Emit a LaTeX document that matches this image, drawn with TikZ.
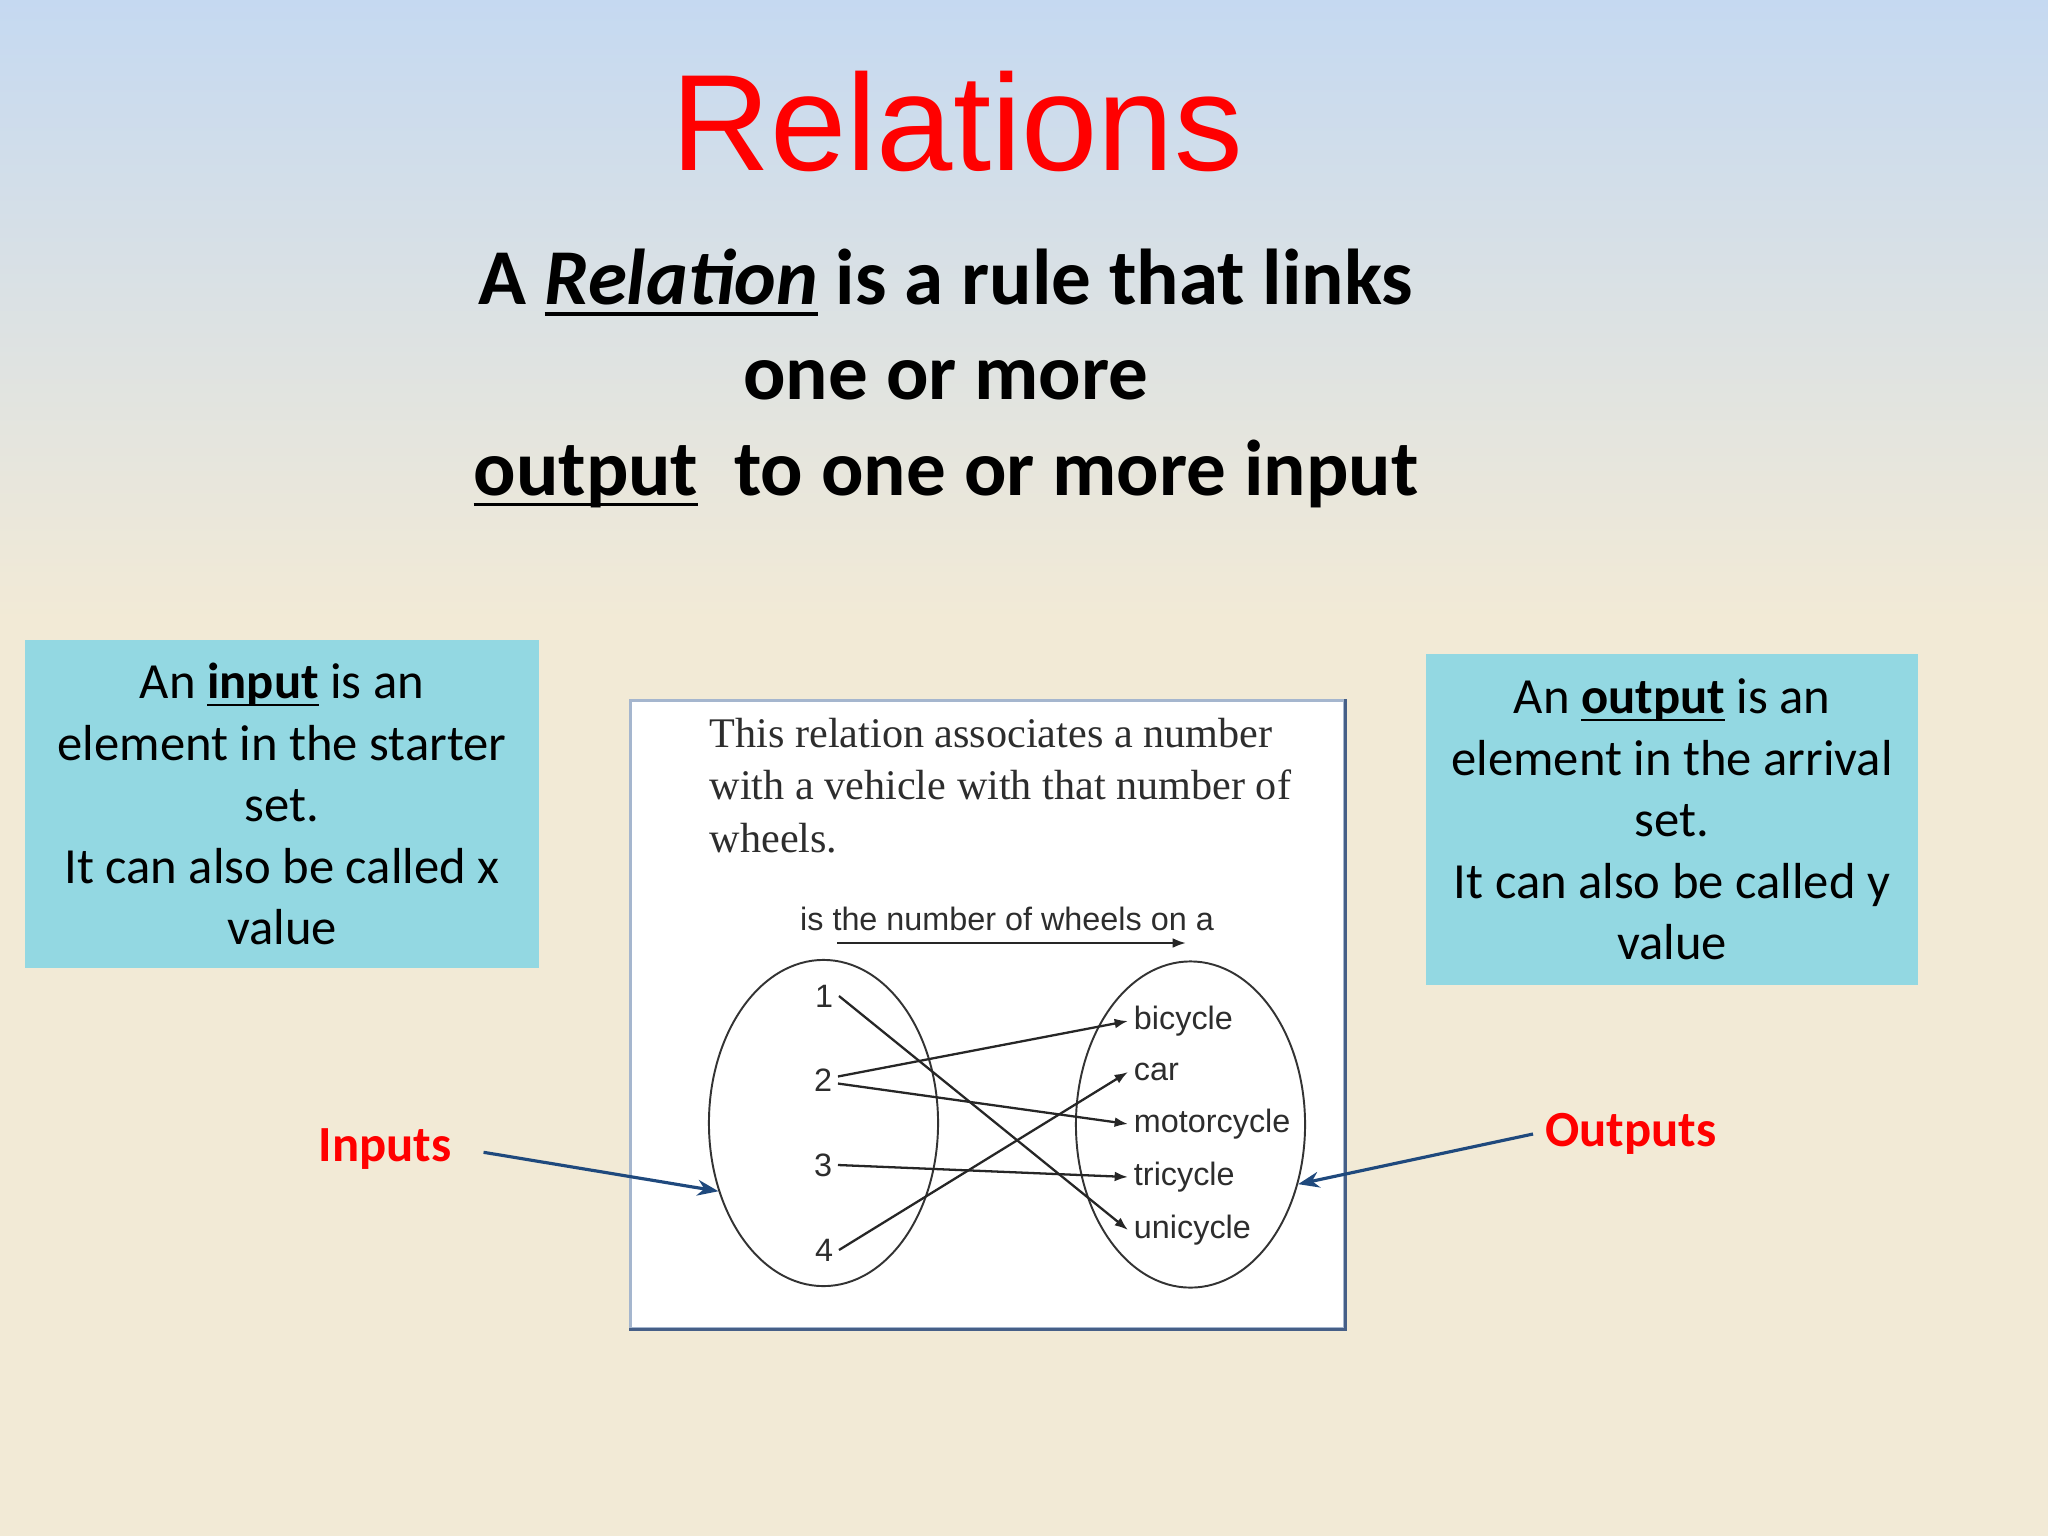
\documentclass[tikz,border=0pt]{standalone}
\usepackage{fontspec}
\setmainfont{Carlito}
\newfontfamily\arialfont{Liberation Sans}
\newfontfamily\timesfont{Liberation Serif}
\usepackage{tikz}
\usetikzlibrary{positioning, calc}
\usetikzlibrary{arrows.meta}
\usetikzlibrary{shapes.geometric}
\definecolor{bgtop}{RGB}{197,217,241}
\definecolor{bgbot}{RGB}{242,234,214}
\definecolor{boxcyan}{RGB}{147,216,226}
\definecolor{arrowblue}{RGB}{31,73,125}
\definecolor{framecol}{RGB}{165,182,206}
\definecolor{frameshade}{RGB}{70,95,135}
\definecolor{pictext}{RGB}{45,45,45}
\tikzstyle{infobox}=[rectangle,fill=boxcyan,inner sep=0pt,align=center,
font=\fontsize{14.4pt}{17.5pt}\selectfont]
\tikzstyle{deftext}=[anchor=base,inner sep=0pt,
font=\bfseries\fontsize{22.5pt}{27.2pt}\selectfont]
\tikzstyle{captext}=[anchor=base west,inner sep=0pt,text=pictext,
font=\timesfont\fontsize{12pt}{14.8pt}\selectfont]
\tikzstyle{elem}=[inner sep=1.5pt,text=pictext,
font=\arialfont\fontsize{9.2pt}{11pt}\selectfont]
\tikzstyle{setlabel}=[elem,anchor=west,text height=4.8pt,text depth=0pt]
\tikzstyle{setoval}=[ellipse,draw=black!80,line width=0.55pt,
minimum width=2.29cm,minimum height=3.26cm,inner sep=0pt]
\tikzstyle{maparrow}=[-{Latex[length=3.8pt,width=2.8pt]},line width=0.65pt,
black!85]
\tikzstyle{pointarrow}=[-{Stealth[length=6pt,width=4.5pt]},line width=0.9pt,
arrowblue]
\tikzstyle{sidelabel}=[text=red,font=\bfseries\fontsize{14.4pt}{17.5pt}\selectfont]
\newcommand\ulword[3]{\setbox0=\hbox{#3}\rlap{\rule[-#1]{\wd0}{#2}}\box0\relax}

\begin{document}
\begin{tikzpicture}[x=0.01cm,y=-0.01cm]
        \useasboundingbox (0,0) rectangle (2048,1536);
        % background
        \fill[bgbot] (0,0) rectangle (2048,1536);
        \shade[top color=bgtop,bottom color=bgbot] (0,0) rectangle (2048,620);

        \node[anchor=base,inner sep=0pt,text=red,
            font=\arialfont\fontsize{39pt}{46pt}\selectfont] (title) at (957,170) {Relations};
        \node[deftext] (def1) at (946,304) {A \ulword{3.4pt}{1pt}{\textit{Relation}} is a rule that links};
        \node[deftext] (def2) at (946,399) {one or more};
        \node[deftext] (def3) at (946,495) {\ulword{3.2pt}{1pt}{output}\ \ to one or more input};

        \node[infobox,minimum width=5.14cm,minimum height=3.28cm] (inbox) at (282,804)
            {An \ulword{2.2pt}{0.75pt}{\textbf{input}} is an\\element in the starter\\set.\\It can also be called x\\value};
        \node[infobox,minimum width=4.92cm,minimum height=3.31cm] (outbox) at (1672,819.5)
            {An \ulword{2.2pt}{0.75pt}{\textbf{output}} is an\\element in the arrival\\set.\\It can also be called y\\value};

        % the mapping picture
        \node[draw=framecol,fill=white,line width=0.8pt,minimum width=7.13cm,
            minimum height=6.27cm,inner sep=0pt] (frame) at (987.5,1014.5) {};
        \draw[frameshade,line width=0.8pt] (frame.north east) -- (frame.south east) -- (frame.south west);

        \node[captext] (cap1) at (709,747) {This relation associates a number};
        \node[captext] (cap2) at (709,799) {with a vehicle with that number of};
        \node[captext] (cap3) at (709,852) {wheels.};

        \node[elem,anchor=base] (rule) at (1007,930) {is the number of wheels on a};
        \coordinate (ruleL) at (837,943);
        \coordinate (ruleR) at (1186,943);
        \draw[maparrow] (ruleL) -- (ruleR);

        \node[setoval] (dom) at (823.5,1123) {};
        \node[setoval] (cod) at (1190.5,1124.5) {};

        \node[elem] (n1) at (824,996) {1};
        \node[elem] (n2) at (823,1080) {2};
        \node[elem] (n3) at (823,1165) {3};
        \node[elem] (n4) at (824,1250) {4};

        \node[setlabel] (bicycle) at (1128,1021) {bicycle};
        \node[setlabel] (car) at (1128,1072) {car};
        \node[setlabel] (motorcycle) at (1128,1124) {motorcycle};
        \node[setlabel] (tricycle) at (1128,1177) {tricycle};
        \node[setlabel] (unicycle) at (1128,1230) {unicycle};

        \draw[maparrow] (n1.east) -- (unicycle.west);
        \draw[maparrow] ([yshift=1pt]n2.east) -- (bicycle.west);
        \draw[maparrow] ([yshift=-1pt]n2.east) -- (motorcycle.west);
        \draw[maparrow] (n3.east) -- (tricycle.west);
        \draw[maparrow] (n4.east) -- (car.west);

        % pointers
        \node[sidelabel] (inputs) at (385,1149) {Inputs};
        \node[sidelabel] (outputs) at (1631,1134) {Outputs};
        \draw[pointarrow,shorten <=0.2cm] (inputs.east) -- (dom.213);
        \draw[pointarrow] (outputs.west) -- (cod.331);
\end{tikzpicture}
\end{document}
